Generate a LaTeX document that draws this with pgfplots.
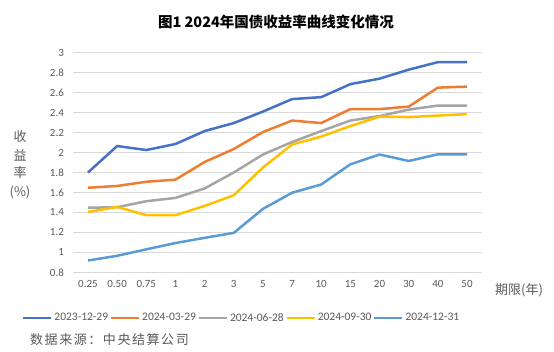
\documentclass[border=0pt]{standalone}
\usepackage{fontspec}
\setmainfont{Carlito}
\newfontfamily\cjk{Noto Sans CJK SC}
\usepackage{pgfplots}
\pgfplotsset{compat=1.18}
\definecolor{c1}{HTML}{4472C4}
\definecolor{c2}{HTML}{ED7D31}
\definecolor{c3}{HTML}{A5A5A5}
\definecolor{c4}{HTML}{FFC000}
\definecolor{c5}{HTML}{5B9BD5}
\definecolor{txt}{HTML}{595959}
\definecolor{gridc}{HTML}{D9D9D9}
\begin{document}
\begin{tikzpicture}[x=1pt,y=1pt]
\path[use as bounding box] (0,0) rectangle (554,352);
\begin{axis}[
  at={(73.4pt,79.7pt)}, anchor=south west,
  scale only axis, width=408.2pt, height=219.6pt,
  xmin=-0.5, xmax=13.5, ymin=0.8, ymax=3,
  xtick={0,...,13},
  xticklabels={0.25,0.50,0.75,1,2,3,5,7,10,15,20,30,40,50},
  ytick={0.8,1,...,3.01},
  yticklabel style={/pgf/number format/fixed,/pgf/number format/precision=1, xshift=-6pt},
  /pgf/number format/assume math mode=true,
  xticklabel style={yshift=-5pt},
  ticklabel style={font=\fontsize{11}{13}\selectfont, text=txt},
  major tick length=0pt,
  axis line style={draw=none},
  ymajorgrids, grid style={gridc, line width=0.8pt},
  clip=false,
  legend columns=5,
  legend style={at={(axis description cs:-0.126,-0.208)}, anchor=west, draw=none, fill=none,
    inner xsep=0pt, inner ysep=0pt,
    font=\fontsize{11.5}{13}\selectfont, text=txt,
    nodes={inner xsep=1.8pt},
    /tikz/every even column/.append style={column sep=0pt}},
  legend image code/.code={\draw[#1, line width=2.5pt] (0pt,0pt) -- (28pt,0pt);},
  every axis plot/.append style={line width=2.5pt, line join=round},
]
\addplot[c1] coordinates {(0,1.80)(1,2.065)(2,2.025)(3,2.085)(4,2.215)(5,2.295)(6,2.41)(7,2.535)(8,2.555)(9,2.685)(10,2.74)(11,2.83)(12,2.905)(13,2.905)};
\addlegendentry{2023-12-29}
\addplot[c2] coordinates {(0,1.647)(1,1.665)(2,1.707)(3,1.728)(4,1.905)(5,2.035)(6,2.205)(7,2.32)(8,2.295)(9,2.435)(10,2.435)(11,2.46)(12,2.65)(13,2.66)};
\addlegendentry{2024-03-29}
\addplot[c3] coordinates {(0,1.447)(1,1.452)(2,1.512)(3,1.545)(4,1.64)(5,1.80)(6,1.98)(7,2.105)(8,2.215)(9,2.32)(10,2.365)(11,2.43)(12,2.47)(13,2.47)};
\addlegendentry{2024-06-28}
\addplot[c4] coordinates {(0,1.405)(1,1.455)(2,1.372)(3,1.372)(4,1.465)(5,1.572)(6,1.85)(7,2.08)(8,2.16)(9,2.265)(10,2.36)(11,2.355)(12,2.37)(13,2.385)};
\addlegendentry{2024-09-30}
\addplot[c5] coordinates {(0,0.918)(1,0.965)(2,1.03)(3,1.093)(4,1.145)(5,1.195)(6,1.435)(7,1.597)(8,1.68)(9,1.882)(10,1.98)(11,1.915)(12,1.982)(13,1.982)};
\addlegendentry{2024-12-31}
\end{axis}
\node[font=\cjk\bfseries\fontsize{14.5}{16}\selectfont] at (276,330) {图1 2024年国债收益率曲线变化情况};
\node[font=\cjk\fontsize{13}{15}\selectfont, text=txt] at (20,215) {收};
\node[font=\cjk\fontsize{13}{15}\selectfont, text=txt] at (20,197) {益};
\node[font=\cjk\fontsize{13}{15}\selectfont, text=txt] at (20,179) {率};
\node[font=\cjk\fontsize{13}{15}\selectfont, text=txt] at (20,160) {(\%)};
\node[font=\cjk\fontsize{13}{15}\selectfont, text=txt] at (519,62) {期限(年)};
\node[font=\cjk\fontsize{13}{15}\selectfont\addfontfeatures{LetterSpace=12}, text=txt, anchor=west, inner sep=0pt] at (30,12) {数据来源：中央结算公司};
\end{tikzpicture}
\end{document}
